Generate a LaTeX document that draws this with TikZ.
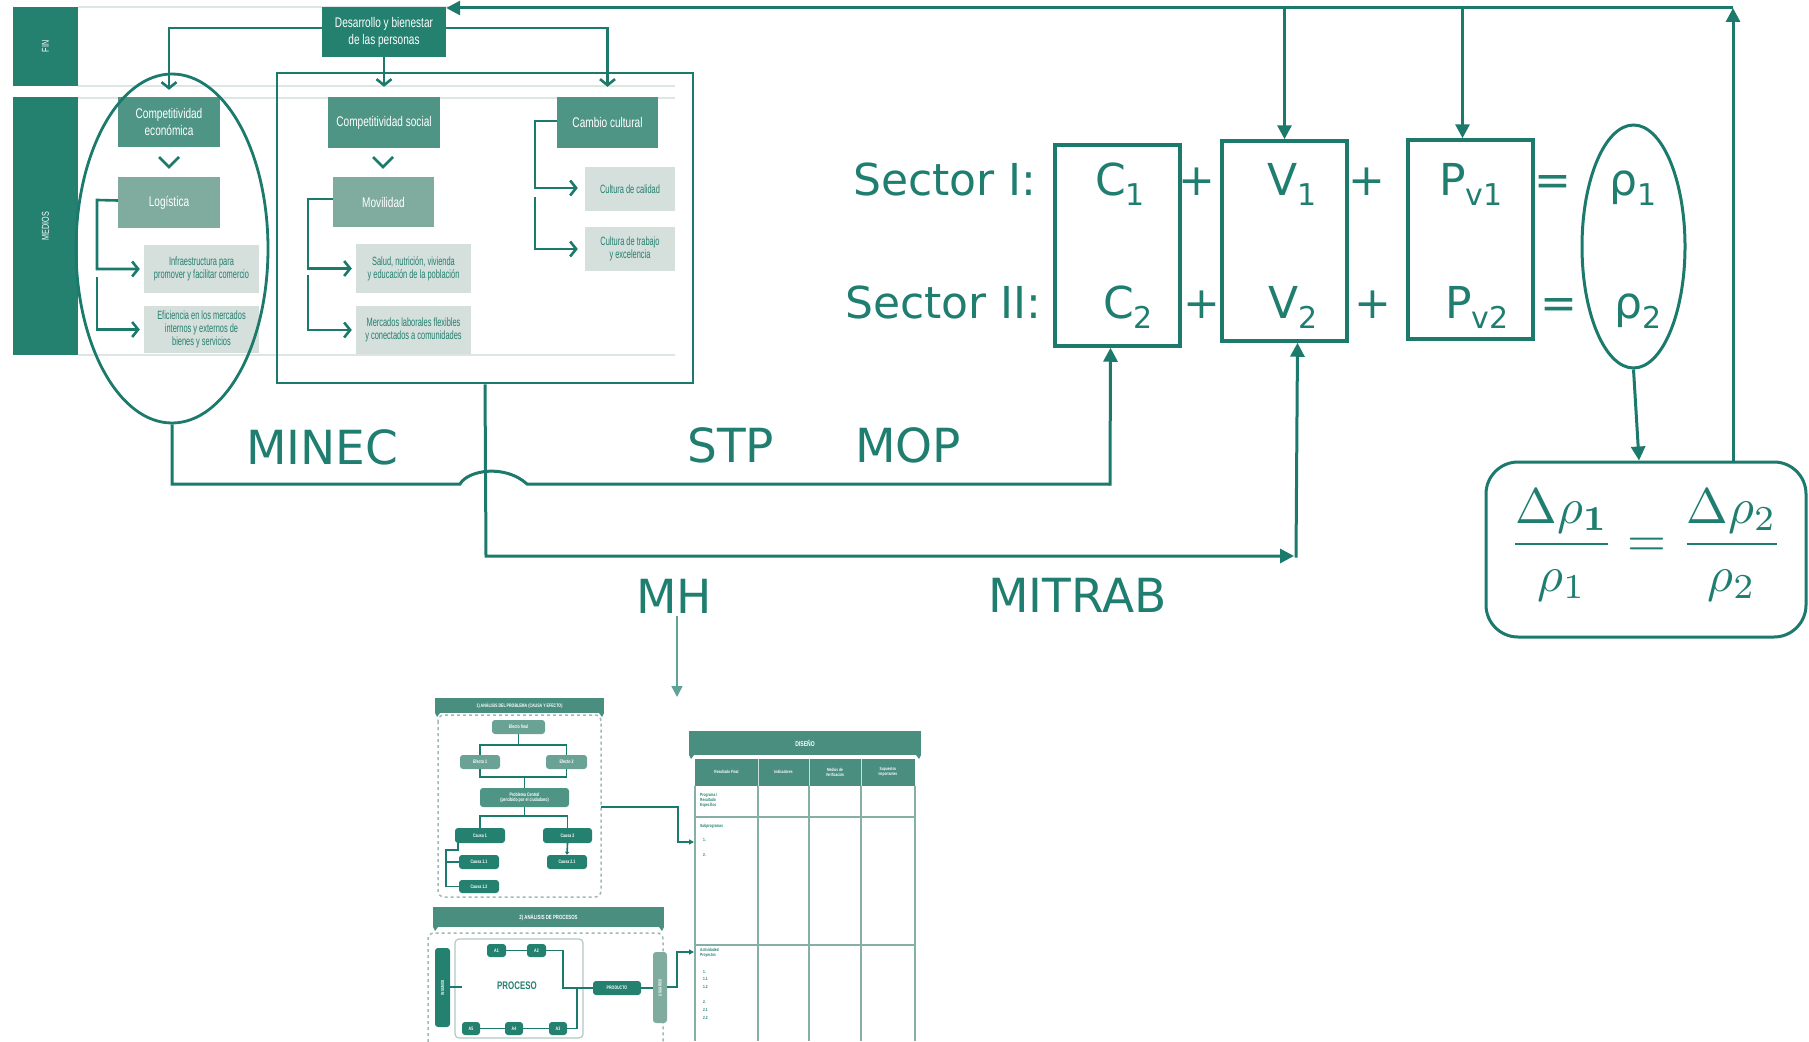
\documentclass[tikz,border=0pt]{standalone}
\usepackage[no-math]{fontspec}
\setmainfont{DejaVu Sans}
\newfontfamily\cond[FakeStretch=0.72]{Liberation Sans}
\newfontfamily\condg[FakeStretch=0.62]{Liberation Sans}
\usetikzlibrary{arrows.meta,shapes.geometric}
\definecolor{tl}{HTML}{1B7A6C}
\definecolor{tltext}{HTML}{1F7E70}
\definecolor{cdark}{HTML}{24806F}
\definecolor{cmed}{HTML}{4F9586}
\definecolor{clight}{HTML}{80ACA0}
\definecolor{cgray}{HTML}{D5DFDC}
\definecolor{cband}{HTML}{DDE6E3}
\definecolor{cdash}{HTML}{9FBBB4}
\definecolor{cban}{HTML}{4A8E80}
\definecolor{cmini}{HTML}{6AA295}
\definecolor{cgrid}{HTML}{86AFA6}
\newcommand\sbx[1]{\raisebox{-10pt}{\fontsize{30}{30}\selectfont #1}}
\begin{document}
\begin{tikzpicture}[x=1pt,y=-1pt,
  ln/.style={draw=tl,line width=3pt},
  arr/.style={ln,-{Triangle[length=14pt,width=14pt]}},
  chev/.style={draw=tl,line width=2.6pt,-{Straight Barb[length=6pt,width=15pt]}},
  lbl/.style={inner sep=0pt,text=tltext,font=\fontsize{47}{50}\selectfont,anchor=base west},
  eq/.style={inner sep=0pt,text=tltext,font=\fontsize{44}{50}\selectfont,anchor=base west},
  tbox/.style={inner sep=1pt,align=center,text=white,font=\cond\fontsize{14}{17}\selectfont},
  gbox/.style={fill=cgray,inner sep=1pt,align=center,text=cdark,font=\condg\fontsize{12}{13}\selectfont},
  band/.style={draw=cband,line width=1.5pt},
  mini/.style={inner sep=0pt,align=center,text=white,rounded corners=3pt,font=\cond\bfseries\fontsize{5}{5.5}\selectfont},
  mln/.style={draw=tl,line width=1.6pt},
  tiny/.style={inner sep=0pt,anchor=west,text=cdark,font=\cond\bfseries\fontsize{4.5}{5}\selectfont,align=left}]
\useasboundingbox (0,0) rectangle (1809,1041);
\fill[white] (0,0) rectangle (1809,1041);

% ---------------- left panel ----------------
\foreach \yy in {7,86,98,355} \draw[band] (78,\yy) -- (675,\yy);
\node[fill=cdark,minimum width=65pt,minimum height=79pt,inner sep=0] (fin) at (45.5,46.5) {};
\node[rotate=90,text=white,font=\cond\fontsize{10}{10}\selectfont] at (fin) {FIN};
\node[fill=cdark,minimum width=65pt,minimum height=258pt,inner sep=0] (med) at (45.5,226) {};
\node[rotate=90,text=white,font=\cond\fontsize{10}{10}\selectfont] at (med) {MEDIOS};

\node[tbox,fill=cdark,minimum width=124pt,minimum height=50pt] (des) at (384,32) {Desarrollo y bienestar\\de las personas};
\node[tbox,fill=cmed,minimum width=102pt,minimum height=50pt] (ce) at (169,122) {Competitividad\\económica};
\node[tbox,fill=clight,minimum width=102pt,minimum height=51pt] (log) at (169,202.5) {Logística};
\node[gbox,minimum width=115pt,minimum height=48pt] (inf) at (201.5,269) {Infraestructura para\\promover y facilitar comercio};
\node[gbox,minimum width=115pt,minimum height=47pt] (efi) at (201.5,329.5) {Eficiencia en los mercados\\internos y externos de\\bienes y servicios};
\node[tbox,fill=cmed,minimum width=112pt,minimum height=51pt] (cs) at (384,122.5) {Competitividad social};
\node[tbox,fill=clight,minimum width=101pt,minimum height=50pt] (mov) at (383.5,202) {Movilidad};
\node[gbox,minimum width=115pt,minimum height=49pt] (sal) at (413.5,268.5) {Salud, nutrición, vivienda\\y educación de la población};
\node[gbox,minimum width=115pt,minimum height=48pt] (mer) at (413.5,330) {Mercados laborales flexibles\\y conectados a comunidades};
\node[tbox,fill=cmed,minimum width=101pt,minimum height=51pt] (cc) at (607.5,122.5) {Cambio cultural};
\node[gbox,minimum width=90pt,minimum height=44pt] (cal) at (630,189) {Cultura de calidad};
\node[gbox,minimum width=90pt,minimum height=44pt] (tra) at (630,249) {Cultura de trabajo\\y excelencia};

\draw[chev] ([yshift=4pt]des.west) -| ([yshift=7pt]ce.north);
\draw[chev] (des.south) -- ([yshift=10pt]cs.north);
\draw[chev] ([yshift=4pt]des.east) -| ([yshift=10pt]cc.north);
\draw[draw=tl,line width=2.6pt] (159,157) -- (169,167) -- (179,157);
\draw[draw=tl,line width=2.6pt] (373,157) -- (383,167) -- (393,157);
\draw[chev] ([yshift=2pt]log.west) -- (97,200) |- ([xshift=-4pt]inf.west);
\draw[chev] (97,277) |- ([xshift=-4pt]efi.west);
\draw[chev] ([yshift=3pt]mov.west) -- (308,199) |- ([xshift=-4pt]sal.west);
\draw[chev] (308,275) |- ([xshift=-4pt]mer.west);
\draw[chev] ([yshift=1.5pt]cc.west) -- (535,121) |- ([xshift=-7pt,yshift=1pt]cal.west);
\draw[chev] (535,197) |- ([xshift=-7pt]tra.west);

\node[draw=tl,line width=2.8pt,ellipse,minimum width=192pt,minimum height=349pt,inner sep=0] (eco) at (172,248.5) {};
\node[draw=tl,line width=2.8pt,minimum width=416pt,minimum height=310pt,inner sep=0] (soc) at (485,228) {};

% ---------------- equations ----------------
\node[draw=tl,line width=3.5pt,minimum width=125pt,minimum height=201pt,inner sep=0] (C) at (1117.5,245.5) {};
\node[draw=tl,line width=3.5pt,minimum width=125pt,minimum height=200pt,inner sep=0] (V) at (1284.5,241) {};
\node[draw=tl,line width=3.5pt,minimum width=125pt,minimum height=199pt,inner sep=0] (P) at (1470.5,239.5) {};
\node[draw=tl,line width=3pt,ellipse,minimum width=103pt,minimum height=243pt,inner sep=0] (rho) at (1633.5,246.5) {};

\node[eq] (s1) at (853,195) {Sector I:};
\node[eq] (c1) at (1095,195) {C\sbx{1}};
\node[eq,anchor=base] (pl1) at (1197,195) {+};
\node[eq] (v1) at (1267,195) {V\sbx{1}};
\node[eq,anchor=base] (pl2) at (1367,195) {+};
\node[eq] (pv1) at (1439,195) {P\sbx{v1}};
\node[eq,anchor=base] (eq1) at (1553,195) {=};
\node[eq] (r1) at (1609,195) {ρ\sbx{1}};
\node[eq] (s2) at (845,318) {Sector II:};
\node[eq] (c2) at (1103,318) {C\sbx{2}};
\node[eq,anchor=base] (pl3) at (1202,318) {+};
\node[eq] (v2) at (1268,318) {V\sbx{2}};
\node[eq,anchor=base] (pl4) at (1373,318) {+};
\node[eq] (pv2) at (1445,318) {P\sbx{v2}};
\node[eq,anchor=base] (eq2) at (1559,318) {=};
\node[eq] (r2) at (1614,318) {ρ\sbx{2}};

\node[draw=tl,line width=3pt,rounded corners=32pt,minimum width=320pt,minimum height=175pt,inner sep=0] (rb) at (1646,549.5) {};
\node[text=tltext,inner sep=0] (frac) at (1646,545) {\scalebox{5}{$\displaystyle\frac{\Delta\rho_{\mathbf{1}}}{\rho_1}=\frac{\Delta\rho_2}{\rho_2}$}};

% ---------------- labels ----------------
\node[lbl] (minec) at (246,464) {MINEC};
\node[lbl] (stp) at (687,462) {STP};
\node[lbl] (mop) at (855,462) {MOP};
\node[lbl] (mh) at (636,613) {MH};
\node[lbl] (mitrab) at (988,612) {MITRAB};

% ---------------- connectors ----------------
\coordinate (tr) at (1733,8);
\coordinate (rt) at (1639,0);
\draw[arr] (rb.north -| tr) -- (tr);
\draw[arr] (tr) -- (des.north east |- tr);
\draw[arr] (V.north |- tr) -- (V.north);
\draw[arr] ([xshift=-8pt]P.north |- tr) -- ([xshift=-8pt]P.north);
\draw[arr] (rho.south) -- (rb.north -| rt);
\draw[ln] (eco.south) -- (172,484) -- (460,484) .. controls (468,470) and (505,464) .. (527,484) -- (1110,484);
\draw[arr] (1110,485.5) -- ([xshift=-7pt]C.south);
\draw[arr] (soc.south) -- (486,556) -- (1294,556);
\draw[arr] (1296,557.5) -- ([xshift=13pt]V.south);
\draw[draw=tl!70,line width=1.6pt,-{Triangle[length=11pt,width=11pt]}] (677,616) -- (677,697);

% ---------------- mini figure: problem tree ----------------
\draw[cdash,line width=1.5pt,dashed,rounded corners=6pt] (438,715) rectangle (601,897);
\node[fill=cban,minimum width=169pt,minimum height=15pt,inner sep=0,text=white,font=\cond\bfseries\fontsize{5}{5}\selectfont] (ban1) at (519.5,705.5) {1) ANÁLISIS DEL PROBLEMA (CAUSA Y EFECTO)};
\fill[cban] (435,713) -- (440,713) -- (437,717) -- cycle (604,713) -- (599,713) -- (602,717) -- cycle;
\node[mini,fill=cmini,minimum width=53pt,minimum height=14pt] (ef) at (518.5,727) {Efecto final};
\node[mini,fill=cmini,minimum width=40pt,minimum height=14pt] (e1) at (480,762) {Efecto 1};
\node[mini,fill=cmini,minimum width=41pt,minimum height=14pt] (e2) at (566.5,762) {Efecto 2};
\node[mini,fill=cmed,minimum width=89pt,minimum height=19pt] (pc) at (524.5,797.5) {Problema Central\\(percibido por el ciudadano)};
\node[mini,fill=cdark,minimum width=50pt,minimum height=15pt] (ca1) at (480,835.5) {Causa 1};
\node[mini,fill=cdark,minimum width=49pt,minimum height=15pt] (ca2) at (567.5,835.5) {Causa 2};
\node[mini,fill=cdark,minimum width=40pt,minimum height=14pt] (c11) at (479,862) {Causa 1.1};
\node[mini,fill=cdark,minimum width=40pt,minimum height=13pt] (c12) at (479,886.5) {Causa 1.2};
\node[mini,fill=cdark,minimum width=40pt,minimum height=14pt] (c21) at (567,862) {Causa 2.1};
\coordinate (h1) at (0,745);
\coordinate (h2) at (0,777);
\coordinate (h3) at (0,816);
\draw[mln] (ef.south) -- (518.5,745);
\draw[mln] (e1.north) |- (e2.north |- h1) -- (e2.north);
\draw[mln] (e1.south) |- (e2.south |- h2) -- (e2.south);
\draw[mln] (524.5,777) -- (pc.north);
\draw[mln] (pc.south) -- (524.5,816);
\draw[mln] (ca1.north) |- (ca2.north |- h3) -- (ca2.north);
\draw[mln] (458,843) -- (458,850) -- (446,850) |- (c12.west);
\draw[mln] (446,862) -- (c11.west);
\draw[mln,-{Triangle[length=3pt,width=4pt]}] (ca2.south) -- (c21.north);

% ---------------- mini figure: processes ----------------
\node[fill=cban,minimum width=231pt,minimum height=20pt,inner sep=0,text=white,font=\cond\bfseries\fontsize{6}{6}\selectfont] (ban2) at (548.5,917) {2) ANÁLISIS DE PROCESOS};
\fill[cban] (433,927) -- (438,927) -- (435,931) -- cycle (664,927) -- (659,927) -- (662,931) -- cycle;
\draw[cdash,line width=1.5pt,dashed,rounded corners=6pt] (428,1060) -- (428,933) -- (663,933) -- (663,1060);
\draw[draw=cdash!80,line width=1.2pt,rounded corners=4pt] (455,939) rectangle (583,1038);
\node[mini,fill=cdark,minimum width=15pt,minimum height=79pt] (ins) at (442.5,987.5) {};
\node[rotate=90,text=white,font=\cond\bfseries\fontsize{4.5}{5}\selectfont] at (ins) {INSUMOS};
\node[mini,fill=cdark,minimum width=19pt,minimum height=13pt] (a1) at (496.5,950.5) {A1};
\node[mini,fill=cdark,minimum width=19pt,minimum height=13pt] (a2) at (536.5,950.5) {A2};
\node[mini,fill=cdark,minimum width=18pt,minimum height=13pt] (a5) at (471,1028.5) {A5};
\node[mini,fill=cdark,minimum width=18pt,minimum height=13pt] (a4) at (514,1028.5) {A4};
\node[mini,fill=cdark,minimum width=18pt,minimum height=13pt] (a3) at (558,1028.5) {A3};
\node[text=cdark,inner sep=0,font=\cond\bfseries\fontsize{11}{11}\selectfont] (proc) at (517,986) {PROCESO};
\node[mini,fill=cdark,minimum width=48pt,minimum height=14pt] (prod) at (617,988) {PRODUCTO};
\node[mini,fill=clight,minimum width=14pt,minimum height=71pt] (usu) at (660,987.5) {};
\node[rotate=90,text=white,font=\cond\bfseries\fontsize{4.5}{5}\selectfont] at (usu) {USUARIOS};
\coordinate (h4) at (0,987);
\draw[mln] (a1.east) -- (a2.west);
\draw[mln] (a5.east) -- (a4.west);
\draw[mln] (a4.east) -- (a3.west);
\draw[mln] (a2.east) -- (563,950.5) |- (prod.west);
\draw[mln] (a3.east) -| (577,988);
\draw[mln] (ins.east |- h4) -- (462,987);
\draw[mln] (prod.east) -- (usu.west |- prod.east);
\draw[mln,-{Triangle[length=5pt,width=5pt]}] (601,807) -- (678,807) |- (694,842);
\draw[mln,-{Triangle[length=5pt,width=5pt]}] (usu.east |- h4) -- (677,987) |- (694,952);

% ---------------- mini figure: table ----------------
\node[fill=cban,minimum width=232pt,minimum height=24pt,inner sep=0,text=white,font=\cond\bfseries\fontsize{7}{7}\selectfont] (dis) at (805,743) {DISEÑO};
\fill[cban] (689,755) -- (694,755) -- (691,759) -- cycle (921,755) -- (916,755) -- (919,759) -- cycle;
\fill[cban] (695,759) rectangle (915,786);
\foreach \xa/\xb/\tx in {695/758/{Resultado Final},758/809/Indicadores,809/861/{Medios de\\Verificación},861/915/{Supuestos\\Importantes}}
  \node[text=white,align=center,inner sep=0,font=\cond\bfseries\fontsize{4.5}{5}\selectfont] at ({(\xa+\xb)/2},772) {\tx};
\foreach \xx in {758,809,861} \draw[white!70!cban,line width=1pt] (\xx,759) -- (\xx,786);
\foreach \xx in {695,758,809,861,915} \draw[cgrid,line width=1.6pt] (\xx,786) -- (\xx,1041);
\foreach \yy in {817,945} \draw[cgrid,line width=1.6pt] (695,\yy) -- (915,\yy);
\node[tiny] at (700,800) {Programa /\\Resultado\\Específico};
\node[tiny] at (700,826) {Subprogramas};
\node[tiny] at (703,840) {1.};
\node[tiny] at (703,855) {2.};
\node[tiny] at (700,953) {Actividades/\\Proyectos};
\node[tiny] at (703,972) {1.};
\node[tiny] at (703,979) {1.1};
\node[tiny] at (703,987) {1.2};
\node[tiny] at (703,1002) {2.};
\node[tiny] at (703,1010) {2.1};
\node[tiny] at (703,1018) {2.2};
\end{tikzpicture}
\end{document}
